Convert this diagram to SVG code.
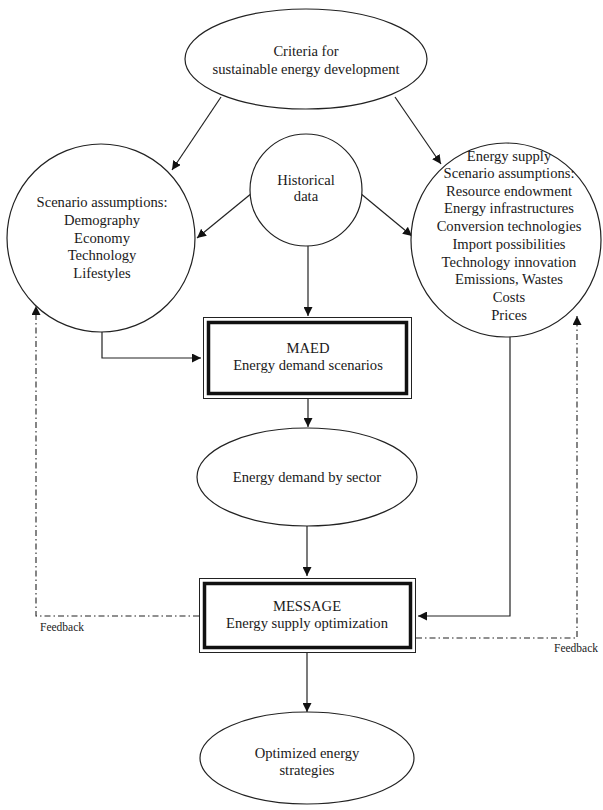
<svg xmlns="http://www.w3.org/2000/svg" width="603" height="810" viewBox="0 0 603 810">
<defs>
<marker id="ah" viewBox="0 0 10 10" refX="10" refY="5" markerWidth="9" markerHeight="9" markerUnits="userSpaceOnUse" orient="auto">
<path d="M0,0 L10,5 L0,10 z" fill="#111"/>
</marker>
</defs>
<style>
.shape{fill:#fff;stroke:#222;stroke-width:1.2}
.t{font-family:"Liberation Serif","Times New Roman",serif;font-size:14.6px;fill:#1a1a1a;text-anchor:middle}
.fb{font-family:"Liberation Serif","Times New Roman",serif;font-size:11.5px;fill:#1a1a1a}
.c{fill:none;stroke:#222;stroke-width:1.2}
.dd{fill:none;stroke:#222;stroke-width:1.1;stroke-dasharray:6 3 1.5 3}
.bo{fill:#fff;stroke:#222;stroke-width:1}
.bi{fill:none;stroke:#111;stroke-width:3.5}
</style>
<rect width="603" height="810" fill="#fff"/>

<g id="connectors">
<line class="c" x1="221" y1="97" x2="172" y2="170" marker-end="url(#ah)"/>
<line class="c" x1="395" y1="97" x2="441" y2="164" marker-end="url(#ah)"/>
<line class="c" x1="252" y1="193" x2="197" y2="238" marker-end="url(#ah)"/>
<line class="c" x1="360" y1="193" x2="412" y2="236" marker-end="url(#ah)"/>
<line class="c" x1="308" y1="246" x2="308" y2="316" marker-end="url(#ah)"/>
<polyline class="c" points="102,332 102,358 201,358" marker-end="url(#ah)"/>
<line class="c" x1="308" y1="399" x2="308" y2="427" marker-end="url(#ah)"/>
<line class="c" x1="307" y1="526" x2="307" y2="576" marker-end="url(#ah)"/>
<polyline class="c" points="510,337 510,616 418,616" marker-end="url(#ah)"/>
<line class="c" x1="307" y1="653" x2="307" y2="712" marker-end="url(#ah)"/>
<polyline class="dd" points="199,616 36,616 36,306" marker-end="url(#ah)"/>
<polyline class="dd" points="416,638 577,638 577,316" marker-end="url(#ah)"/>
<text class="fb" x="40" y="631">Feedback</text>
<text class="fb" x="554" y="652">Feedback</text>
</g>

<g id="criteria">
<ellipse class="shape" cx="306" cy="59" rx="121" ry="50"/>
<text class="t" x="306" y="56">Criteria for</text>
<text class="t" x="306" y="74">sustainable energy development</text>
</g>

<g id="historical">
<circle class="shape" cx="306" cy="190" r="56"/>
<text class="t" x="306" y="185">Historical</text>
<text class="t" x="306" y="201">data</text>
</g>

<g id="scenario-left">
<circle class="shape" cx="101" cy="238" r="94"/>
<text class="t" x="102" y="207">Scenario assumptions:</text>
<text class="t" x="102" y="225">Demography</text>
<text class="t" x="102" y="243">Economy</text>
<text class="t" x="102" y="260">Technology</text>
<text class="t" x="102" y="278">Lifestyles</text>
</g>

<g id="scenario-right">
<ellipse class="shape" cx="506" cy="240" rx="95" ry="97"/>
<text class="t" x="509" y="161">Energy supply</text>
<text class="t" x="509" y="178">Scenario assumptions:</text>
<text class="t" x="509" y="196">Resource endowment</text>
<text class="t" x="509" y="213">Energy infrastructures</text>
<text class="t" x="509" y="231">Conversion technologies</text>
<text class="t" x="509" y="249">Import possibilities</text>
<text class="t" x="509" y="267">Technology innovation</text>
<text class="t" x="509" y="284">Emissions, Wastes</text>
<text class="t" x="509" y="302">Costs</text>
<text class="t" x="509" y="320">Prices</text>
</g>

<g id="maed">
<rect class="bo" x="203.5" y="317.5" width="208" height="81"/>
<rect class="bi" x="208.5" y="322.5" width="198" height="71"/>
<text class="t" x="308" y="353">MAED</text>
<text class="t" x="308" y="370">Energy demand scenarios</text>
</g>

<g id="demand-sector">
<ellipse class="shape" cx="307" cy="477" rx="110" ry="49"/>
<text class="t" x="307" y="482">Energy demand by sector</text>
</g>

<g id="message">
<rect class="bo" x="199.5" y="578.5" width="216" height="74"/>
<rect class="bi" x="204.5" y="583.5" width="206" height="64"/>
<text class="t" x="307" y="611">MESSAGE</text>
<text class="t" x="307" y="628">Energy supply optimization</text>
</g>

<g id="optimized">
<ellipse class="shape" cx="307" cy="758" rx="107" ry="46"/>
<text class="t" x="307" y="758">Optimized energy</text>
<text class="t" x="307" y="775">strategies</text>
</g>
</svg>
